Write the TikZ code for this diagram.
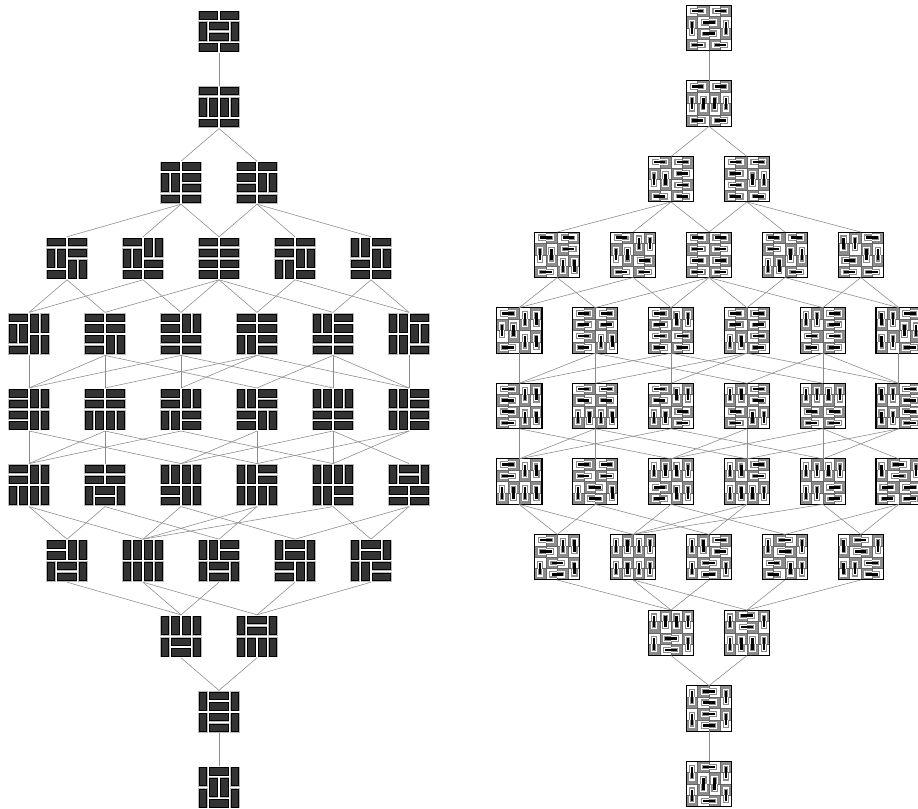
\documentclass[tikz,border=0pt]{standalone}
\usepackage{tikz}

\colorlet{cellgray}{black!45}
\tikzset{
  lefttile/.style={minimum size=1.29cm, inner sep=0pt, outer sep=0pt},
  righttile/.style={minimum size=1.365cm, inner sep=0pt, outer sep=0pt},
  domino/.style={fill=black!80, draw=black, line width=0.8pt},
  rim/.style={fill=gray!55},
  outline/.style={line width=5.6pt},
  gap/.style={line width=3.7pt},
  dimer/.style={line width=2.2pt, black},
  cellgrid/.style={draw=black!60, line width=0.3pt},
  tileframe/.style={draw=black, line width=0.9pt},
  edge/.style={draw=black!45, line width=0.5pt}
}

% one tiling, drawn twice: as dominoes (left) and as dimers (right)
\newcommand{\tiling}[4]{%
  \node[lefttile] (L#1) at ({219+76*(#2)},{31.5+75.6*(#3)}) {};
  \node[righttile] (R#1) at ({709+75.9*(#2)},{28+75.6*(#3)}) {};
  \begin{scope}[shift={(L#1.north west)}]
    \foreach \t/\r/\c in {#4} {
      \if\t H\def\w{2}\def\h{1}\else\def\w{1}\def\h{2}\fi
      \fill[rim] ({\c*10.75+0.7},{\r*10.75+0.7}) rectangle ({(\c+\w)*10.75-0.7},{(\r+\h)*10.75-0.7});
      \filldraw[domino] ({\c*10.75+1.7},{\r*10.75+1.7}) rectangle ({(\c+\w)*10.75-1.7},{(\r+\h)*10.75-1.7});
    }
  \end{scope}
  \begin{scope}[shift={(R#1.north west)}]
    \foreach \r in {0,...,3} \foreach \c in {0,...,3} {
      \pgfmathtruncatemacro\pty{mod(\r+\c,2)}
      \ifnum\pty=1 \fill[cellgray] ({\c*11.375},{\r*11.375}) rectangle ({(\c+1)*11.375},{(\r+1)*11.375});\fi
    }
    \foreach \k in {1,2,3} {
      \draw[cellgrid] ({\k*11.375},0) -- ({\k*11.375},45.5);
      \draw[cellgrid] (0,{\k*11.375}) -- (45.5,{\k*11.375});
    }
    \foreach \t/\r/\c in {#4} {
      \if\t H\def\dx{1}\def\dy{0}\else\def\dx{0}\def\dy{1}\fi
      \pgfmathtruncatemacro\pty{mod(\r+\c,2)}
      \ifnum\pty=0 \def\cp{white}\def\cq{cellgray}\else\def\cp{cellgray}\def\cq{white}\fi
      \draw[outline, \cq] ({(\c+0.5-0.2*\dx)*11.375},{(\r+0.5-0.2*\dy)*11.375}) -- ({(\c+0.5+0.48*\dx)*11.375},{(\r+0.5+0.48*\dy)*11.375});
      \draw[outline, \cp] ({(\c+0.5+0.52*\dx)*11.375},{(\r+0.5+0.52*\dy)*11.375}) -- ({(\c+0.5+1.2*\dx)*11.375},{(\r+0.5+1.2*\dy)*11.375});
      \draw[gap, \cp] ({(\c+0.5-0.1*\dx)*11.375},{(\r+0.5-0.1*\dy)*11.375}) -- ({(\c+0.5+0.5*\dx)*11.375},{(\r+0.5+0.5*\dy)*11.375});
      \draw[gap, \cq] ({(\c+0.5+0.5*\dx)*11.375},{(\r+0.5+0.5*\dy)*11.375}) -- ({(\c+0.5+1.1*\dx)*11.375},{(\r+0.5+1.1*\dy)*11.375});
      \draw[dimer] ({(\c+0.5)*11.375},{(\r+0.5)*11.375}) -- ({(\c+0.5+\dx)*11.375},{(\r+0.5+\dy)*11.375});
    }
    \draw[tileframe] (0,0) rectangle (45.5,45.5);
  \end{scope}
}

\begin{document}
\begin{tikzpicture}[x=0.03cm, y=-0.03cm]
  \useasboundingbox (0,0) rectangle (918,809);

  \tiling{0}{0}{0}{H/0/0,H/0/2,V/1/0,H/1/1,H/2/1,V/1/3,H/3/0,H/3/2}
  \tiling{1}{0}{1}{H/0/0,H/0/2,V/1/0,V/1/1,V/1/2,V/1/3,H/3/0,H/3/2}

  \tiling{2a}{-0.5}{2}{H/0/0,H/0/2,V/1/0,V/1/1,H/1/2,H/2/2,H/3/0,H/3/2}
  \tiling{2b}{0.5}{2}{H/0/0,H/0/2,H/1/0,H/2/0,V/1/2,V/1/3,H/3/0,H/3/2}

  \tiling{3a}{-2}{3}{H/0/0,H/0/2,V/1/0,V/1/1,H/1/2,V/2/2,V/2/3,H/3/0}
  \tiling{3b}{-1}{3}{H/0/0,V/0/2,V/0/3,V/1/0,V/1/1,H/2/2,H/3/0,H/3/2}
  \tiling{3c}{0}{3}{H/0/0,H/0/2,H/1/0,H/1/2,H/2/0,H/2/2,H/3/0,H/3/2}
  \tiling{3d}{1}{3}{H/0/0,H/0/2,H/1/0,V/1/2,V/1/3,V/2/0,V/2/1,H/3/2}
  \tiling{3e}{2}{3}{V/0/0,V/0/1,H/0/2,V/1/2,V/1/3,H/2/0,H/3/0,H/3/2}

  \tiling{4a}{-2.5}{4}{H/0/0,V/0/2,V/0/3,V/1/0,V/1/1,V/2/2,V/2/3,H/3/0}
  \tiling{4b}{-1.5}{4}{H/0/0,H/0/2,H/1/0,H/1/2,H/2/0,V/2/2,V/2/3,H/3/0}
  \tiling{4c}{-0.5}{4}{H/0/0,V/0/2,V/0/3,H/1/0,H/2/0,H/2/2,H/3/0,H/3/2}
  \tiling{4d}{0.5}{4}{H/0/0,H/0/2,H/1/0,H/1/2,V/2/0,V/2/1,H/2/2,H/3/2}
  \tiling{4e}{1.5}{4}{V/0/0,V/0/1,H/0/2,H/1/2,H/2/0,H/2/2,H/3/0,H/3/2}
  \tiling{4f}{2.5}{4}{V/0/0,V/0/1,H/0/2,V/1/2,V/1/3,V/2/0,V/2/1,H/3/2}

  \tiling{5a}{-2.5}{5}{H/0/0,H/1/0,V/0/2,V/0/3,H/2/0,H/3/0,V/2/2,V/2/3}
  \tiling{5b}{-1.5}{5}{H/0/0,H/0/2,H/1/0,H/1/2,V/2/0,V/2/1,V/2/2,V/2/3}
  \tiling{5c}{-0.5}{5}{H/0/0,V/0/2,V/0/3,H/1/0,V/2/0,V/2/1,H/2/2,H/3/2}
  \tiling{5d}{0.5}{5}{V/0/0,V/0/1,H/0/2,H/1/2,H/2/0,H/3/0,V/2/2,V/2/3}
  \tiling{5e}{1.5}{5}{V/0/0,V/0/1,V/0/2,V/0/3,H/2/0,H/2/2,H/3/0,H/3/2}
  \tiling{5f}{2.5}{5}{V/0/0,V/0/1,H/0/2,H/1/2,V/2/0,V/2/1,H/2/2,H/3/2}

  \tiling{6a}{-2.5}{6}{H/0/0,H/1/0,V/0/2,V/0/3,V/2/0,V/2/1,V/2/2,V/2/3}
  \tiling{6b}{-1.5}{6}{H/0/0,H/0/2,H/1/0,H/1/2,V/2/0,H/2/1,H/3/1,V/2/3}
  \tiling{6c}{-0.5}{6}{V/0/0,V/0/1,V/0/2,V/0/3,H/2/0,H/3/0,V/2/2,V/2/3}
  \tiling{6d}{0.5}{6}{V/0/0,V/0/1,H/0/2,H/1/2,V/2/0,V/2/1,V/2/2,V/2/3}
  \tiling{6e}{1.5}{6}{V/0/0,V/0/1,V/0/2,V/0/3,V/2/0,V/2/1,H/2/2,H/3/2}
  \tiling{6f}{2.5}{6}{V/0/0,H/0/1,H/1/1,V/0/3,H/2/0,H/2/2,H/3/0,H/3/2}

  \tiling{7a}{-2}{7}{H/0/0,H/1/0,V/0/2,V/0/3,V/2/0,H/2/1,H/3/1,V/2/3}
  \tiling{7b}{-1}{7}{V/0/0,V/0/1,V/0/2,V/0/3,V/2/0,V/2/1,V/2/2,V/2/3}
  \tiling{7c}{0}{7}{V/0/0,V/0/1,H/0/2,H/1/2,V/2/0,H/2/1,H/3/1,V/2/3}
  \tiling{7d}{1}{7}{V/0/0,H/0/1,H/1/1,V/0/3,H/2/0,H/3/0,V/2/2,V/2/3}
  \tiling{7e}{2}{7}{V/0/0,H/0/1,H/1/1,V/0/3,V/2/0,V/2/1,H/2/2,H/3/2}

  \tiling{8a}{-0.5}{8}{V/0/0,V/0/1,V/0/2,V/0/3,V/2/0,H/2/1,H/3/1,V/2/3}
  \tiling{8b}{0.5}{8}{V/0/0,H/0/1,H/1/1,V/0/3,V/2/0,V/2/1,V/2/2,V/2/3}

  \tiling{9}{0}{9}{V/0/0,H/0/1,H/1/1,V/0/3,V/2/0,H/2/1,H/3/1,V/2/3}
  \tiling{10}{0}{10}{V/0/0,H/0/1,V/1/1,V/1/2,V/0/3,V/2/0,H/3/1,V/2/3}

  % flips between neighbouring ranks
  \foreach \a/\b in {0/1, 1/2a, 1/2b,
      2a/3a, 2a/3b, 2a/3c, 2b/3c, 2b/3d, 2b/3e,
      3a/4a, 3a/4b, 3b/4a, 3b/4c, 3c/4b, 3c/4c, 3c/4d, 3c/4e, 3d/4d, 3d/4f, 3e/4e, 3e/4f,
      4a/5a, 4b/5a, 4b/5b, 4b/5d, 4c/5a, 4c/5c, 4c/5e, 4d/5b, 4d/5c, 4d/5f, 4e/5d, 4e/5e, 4e/5f, 4f/5f,
      5a/6a, 5a/6c, 5b/6a, 5b/6b, 5b/6d, 5c/6a, 5c/6e, 5d/6c, 5d/6d, 5e/6c, 5e/6e, 5e/6f, 5f/6d, 5f/6e,
      6a/7a, 6a/7b, 6b/7a, 6b/7c, 6c/7b, 6c/7d, 6d/7b, 6d/7c, 6e/7b, 6e/7e, 6f/7d, 6f/7e,
      7a/8a, 7b/8a, 7b/8b, 7c/8a, 7d/8b, 7e/8b,
      8a/9, 8b/9, 9/10} {
    \draw[edge] (L\a.south) -- (L\b.north);
    \draw[edge] (R\a.south) -- (R\b.north);
  }
\end{tikzpicture}
\end{document}
